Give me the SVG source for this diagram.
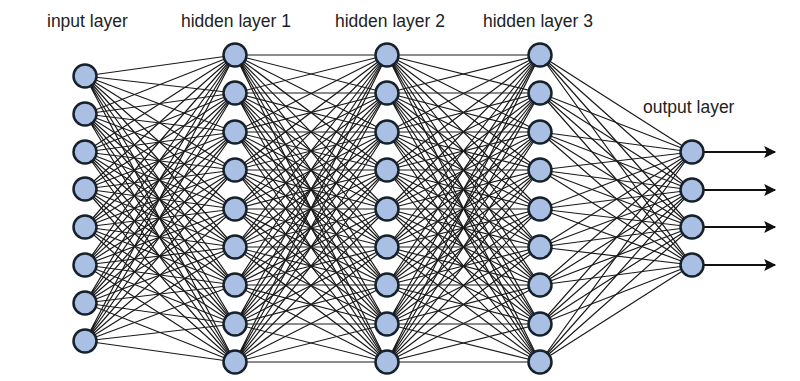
<svg xmlns="http://www.w3.org/2000/svg" width="800" height="381" viewBox="0 0 800 381">
<style>
.lbl{font-family:"Liberation Sans",Arial,sans-serif;font-size:17.5px;fill:#222}
.e{fill:none;stroke:#1a1a1a;stroke-width:1.2}
.n{fill:#a9c0e4;stroke:#17212b;stroke-width:2.5}
.out{stroke:#111;stroke-width:2;fill:none}
</style>
<defs>
<marker id="ah" viewBox="0 0 10 10" refX="9" refY="5" markerWidth="8" markerHeight="6" orient="auto" markerUnits="strokeWidth">
<path d="M0 0L10 5L0 10L2 5Z" fill="#111"/>
</marker>
</defs>
<rect width="800" height="381" fill="#fff"/>
<g id="labels">
<text class="lbl" x="47" y="27">input layer</text>
<text class="lbl" x="181" y="27">hidden layer 1</text>
<text class="lbl" x="335" y="27">hidden layer 2</text>
<text class="lbl" x="483" y="27">hidden layer 3</text>
<text class="lbl" x="643" y="113">output layer</text>
</g>
<g id="connectors">
<path class="e" d="M85 76L235 55M85 76L235 93M85 76L235 132M85 76L235 170M85 76L235 209M85 76L235 247M85 76L235 285M85 76L235 324M85 76L235 362"/>
<path class="e" d="M85 114L235 55M85 114L235 93M85 114L235 132M85 114L235 170M85 114L235 209M85 114L235 247M85 114L235 285M85 114L235 324M85 114L235 362"/>
<path class="e" d="M85 152L235 55M85 152L235 93M85 152L235 132M85 152L235 170M85 152L235 209M85 152L235 247M85 152L235 285M85 152L235 324M85 152L235 362"/>
<path class="e" d="M85 189L235 55M85 189L235 93M85 189L235 132M85 189L235 170M85 189L235 209M85 189L235 247M85 189L235 285M85 189L235 324M85 189L235 362"/>
<path class="e" d="M85 227L235 55M85 227L235 93M85 227L235 132M85 227L235 170M85 227L235 209M85 227L235 247M85 227L235 285M85 227L235 324M85 227L235 362"/>
<path class="e" d="M85 265L235 55M85 265L235 93M85 265L235 132M85 265L235 170M85 265L235 209M85 265L235 247M85 265L235 285M85 265L235 324M85 265L235 362"/>
<path class="e" d="M85 303L235 55M85 303L235 93M85 303L235 132M85 303L235 170M85 303L235 209M85 303L235 247M85 303L235 285M85 303L235 324M85 303L235 362"/>
<path class="e" d="M85 341L235 55M85 341L235 93M85 341L235 132M85 341L235 170M85 341L235 209M85 341L235 247M85 341L235 285M85 341L235 324M85 341L235 362"/>

<path class="e" d="M235 55L387 55M235 55L387 93M235 55L387 132M235 55L387 170M235 55L387 209M235 55L387 247M235 55L387 285M235 55L387 324M235 55L387 362"/>
<path class="e" d="M235 93L387 55M235 93L387 93M235 93L387 132M235 93L387 170M235 93L387 209M235 93L387 247M235 93L387 285M235 93L387 324M235 93L387 362"/>
<path class="e" d="M235 132L387 55M235 132L387 93M235 132L387 132M235 132L387 170M235 132L387 209M235 132L387 247M235 132L387 285M235 132L387 324M235 132L387 362"/>
<path class="e" d="M235 170L387 55M235 170L387 93M235 170L387 132M235 170L387 170M235 170L387 209M235 170L387 247M235 170L387 285M235 170L387 324M235 170L387 362"/>
<path class="e" d="M235 209L387 55M235 209L387 93M235 209L387 132M235 209L387 170M235 209L387 209M235 209L387 247M235 209L387 285M235 209L387 324M235 209L387 362"/>
<path class="e" d="M235 247L387 55M235 247L387 93M235 247L387 132M235 247L387 170M235 247L387 209M235 247L387 247M235 247L387 285M235 247L387 324M235 247L387 362"/>
<path class="e" d="M235 285L387 55M235 285L387 93M235 285L387 132M235 285L387 170M235 285L387 209M235 285L387 247M235 285L387 285M235 285L387 324M235 285L387 362"/>
<path class="e" d="M235 324L387 55M235 324L387 93M235 324L387 132M235 324L387 170M235 324L387 209M235 324L387 247M235 324L387 285M235 324L387 324M235 324L387 362"/>
<path class="e" d="M235 362L387 55M235 362L387 93M235 362L387 132M235 362L387 170M235 362L387 209M235 362L387 247M235 362L387 285M235 362L387 324M235 362L387 362"/>

<path class="e" d="M387 55L540 55M387 55L540 93M387 55L540 132M387 55L540 170M387 55L540 209M387 55L540 247M387 55L540 285M387 55L540 324M387 55L540 362"/>
<path class="e" d="M387 93L540 55M387 93L540 93M387 93L540 132M387 93L540 170M387 93L540 209M387 93L540 247M387 93L540 285M387 93L540 324M387 93L540 362"/>
<path class="e" d="M387 132L540 55M387 132L540 93M387 132L540 132M387 132L540 170M387 132L540 209M387 132L540 247M387 132L540 285M387 132L540 324M387 132L540 362"/>
<path class="e" d="M387 170L540 55M387 170L540 93M387 170L540 132M387 170L540 170M387 170L540 209M387 170L540 247M387 170L540 285M387 170L540 324M387 170L540 362"/>
<path class="e" d="M387 209L540 55M387 209L540 93M387 209L540 132M387 209L540 170M387 209L540 209M387 209L540 247M387 209L540 285M387 209L540 324M387 209L540 362"/>
<path class="e" d="M387 247L540 55M387 247L540 93M387 247L540 132M387 247L540 170M387 247L540 209M387 247L540 247M387 247L540 285M387 247L540 324M387 247L540 362"/>
<path class="e" d="M387 285L540 55M387 285L540 93M387 285L540 132M387 285L540 170M387 285L540 209M387 285L540 247M387 285L540 285M387 285L540 324M387 285L540 362"/>
<path class="e" d="M387 324L540 55M387 324L540 93M387 324L540 132M387 324L540 170M387 324L540 209M387 324L540 247M387 324L540 285M387 324L540 324M387 324L540 362"/>
<path class="e" d="M387 362L540 55M387 362L540 93M387 362L540 132M387 362L540 170M387 362L540 209M387 362L540 247M387 362L540 285M387 362L540 324M387 362L540 362"/>

<path class="e" d="M540 55L692 152M540 55L692 190M540 55L692 227M540 55L692 265"/>
<path class="e" d="M540 93L692 152M540 93L692 190M540 93L692 227M540 93L692 265"/>
<path class="e" d="M540 132L692 152M540 132L692 190M540 132L692 227M540 132L692 265"/>
<path class="e" d="M540 170L692 152M540 170L692 190M540 170L692 227M540 170L692 265"/>
<path class="e" d="M540 209L692 152M540 209L692 190M540 209L692 227M540 209L692 265"/>
<path class="e" d="M540 247L692 152M540 247L692 190M540 247L692 227M540 247L692 265"/>
<path class="e" d="M540 285L692 152M540 285L692 190M540 285L692 227M540 285L692 265"/>
<path class="e" d="M540 324L692 152M540 324L692 190M540 324L692 227M540 324L692 265"/>
<path class="e" d="M540 362L692 152M540 362L692 190M540 362L692 227M540 362L692 265"/>

<path class="out" d="M704 152H775" marker-end="url(#ah)"/>
<path class="out" d="M704 190H775" marker-end="url(#ah)"/>
<path class="out" d="M704 227H775" marker-end="url(#ah)"/>
<path class="out" d="M704 265H775" marker-end="url(#ah)"/>
</g>
<g id="input-layer">
<circle class="n" cx="85" cy="76" r="11.5"/>
<circle class="n" cx="85" cy="114" r="11.5"/>
<circle class="n" cx="85" cy="152" r="11.5"/>
<circle class="n" cx="85" cy="189" r="11.5"/>
<circle class="n" cx="85" cy="227" r="11.5"/>
<circle class="n" cx="85" cy="265" r="11.5"/>
<circle class="n" cx="85" cy="303" r="11.5"/>
<circle class="n" cx="85" cy="341" r="11.5"/>
</g>
<g id="hidden-layer-1">
<circle class="n" cx="235" cy="55" r="11.5"/>
<circle class="n" cx="235" cy="93" r="11.5"/>
<circle class="n" cx="235" cy="132" r="11.5"/>
<circle class="n" cx="235" cy="170" r="11.5"/>
<circle class="n" cx="235" cy="209" r="11.5"/>
<circle class="n" cx="235" cy="247" r="11.5"/>
<circle class="n" cx="235" cy="285" r="11.5"/>
<circle class="n" cx="235" cy="324" r="11.5"/>
<circle class="n" cx="235" cy="362" r="11.5"/>
</g>
<g id="hidden-layer-2">
<circle class="n" cx="387" cy="55" r="11.5"/>
<circle class="n" cx="387" cy="93" r="11.5"/>
<circle class="n" cx="387" cy="132" r="11.5"/>
<circle class="n" cx="387" cy="170" r="11.5"/>
<circle class="n" cx="387" cy="209" r="11.5"/>
<circle class="n" cx="387" cy="247" r="11.5"/>
<circle class="n" cx="387" cy="285" r="11.5"/>
<circle class="n" cx="387" cy="324" r="11.5"/>
<circle class="n" cx="387" cy="362" r="11.5"/>
</g>
<g id="hidden-layer-3">
<circle class="n" cx="540" cy="55" r="11.5"/>
<circle class="n" cx="540" cy="93" r="11.5"/>
<circle class="n" cx="540" cy="132" r="11.5"/>
<circle class="n" cx="540" cy="170" r="11.5"/>
<circle class="n" cx="540" cy="209" r="11.5"/>
<circle class="n" cx="540" cy="247" r="11.5"/>
<circle class="n" cx="540" cy="285" r="11.5"/>
<circle class="n" cx="540" cy="324" r="11.5"/>
<circle class="n" cx="540" cy="362" r="11.5"/>
</g>
<g id="output-layer">
<circle class="n" cx="692" cy="152" r="11.5"/>
<circle class="n" cx="692" cy="190" r="11.5"/>
<circle class="n" cx="692" cy="227" r="11.5"/>
<circle class="n" cx="692" cy="265" r="11.5"/>
</g>
</svg>
